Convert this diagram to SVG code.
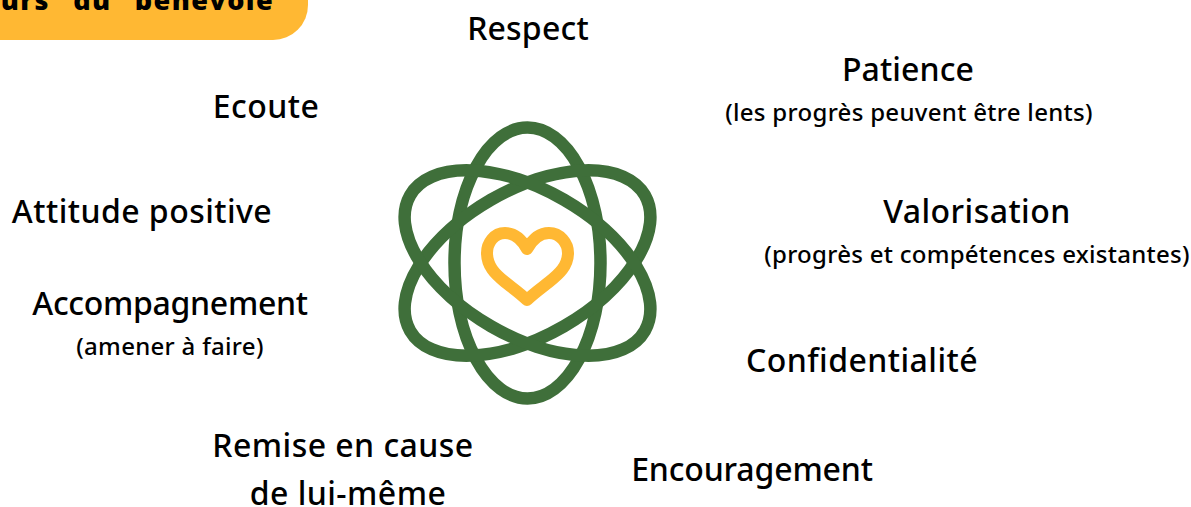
<svg xmlns="http://www.w3.org/2000/svg" width="1191" height="507" viewBox="0 0 1191 507">
<style>
text{font-family:"Noto Sans","DejaVu Sans",sans-serif;fill:#000;font-weight:500;text-anchor:middle}
.t{font-size:32px;letter-spacing:.45px}
.s{font-size:24px;letter-spacing:.3px}
.o{fill:none;stroke:#3f6f3a;stroke-width:12.5}
</style>
<rect width="1191" height="507" fill="#fff"/>
<g id="banner"><path d="M0 0H308V5A35 35 0 0 1 273 40H0Z" fill="#ffb833"/>
<text x="274" y="10" style="text-anchor:end;font-size:27px;font-weight:800;letter-spacing:1.4px;word-spacing:15px;font-family:'Open Sans','Noto Sans',sans-serif">urs du bénévole</text></g>
<g id="emblem">
<ellipse class="o" cx="527.5" cy="263" rx="73" ry="135.5"/>
<ellipse class="o" cx="527.5" cy="263" rx="73" ry="135.5" transform="rotate(60 527.5 263)"/>
<ellipse class="o" cx="527.5" cy="263" rx="73" ry="135.5" transform="rotate(-60 527.5 263)"/>
<path d="M527 249C522 240 515 233 505 233C494 233 487 243 487 253C487 266 495 274 505 282C514 289 521 294 527 300C533 294 540 289 549 282C559 274 568 266 568 253C568 243 560 233 549 233C539 233 532 240 527 249Z" fill="none" stroke="#ffb833" stroke-width="12" stroke-linejoin="round"/>
</g>
<g id="respect"><text class="t" x="528" y="40" style="letter-spacing:.2px">Respect</text></g>
<g id="patience"><text class="t" x="908" y="81" style="letter-spacing:.1px">Patience</text><text class="s" x="909" y="121">(les progrès peuvent être lents)</text></g>
<g id="ecoute"><text class="t" x="266" y="118">Ecoute</text></g>
<g id="attitude"><text class="t" x="142" y="223">Attitude positive</text></g>
<g id="valorisation"><text class="t" x="977" y="223">Valorisation</text><text class="s" x="977" y="263" style="letter-spacing:.27px">(progrès et compétences existantes)</text></g>
<g id="accompagnement"><text class="t" x="170" y="315" style="letter-spacing:-.3px">Accompagnement</text><text class="s" x="170" y="355">(amener à faire)</text></g>
<g id="confidentialite"><text class="t" x="862" y="372">Confidentialité</text></g>
<g id="remise"><text class="t" x="343" y="457">Remise en cause</text><text class="t" x="348" y="505">de lui-même</text></g>
<g id="encouragement"><text class="t" x="752" y="481" style="letter-spacing:-.15px">Encouragement</text></g>
</svg>
